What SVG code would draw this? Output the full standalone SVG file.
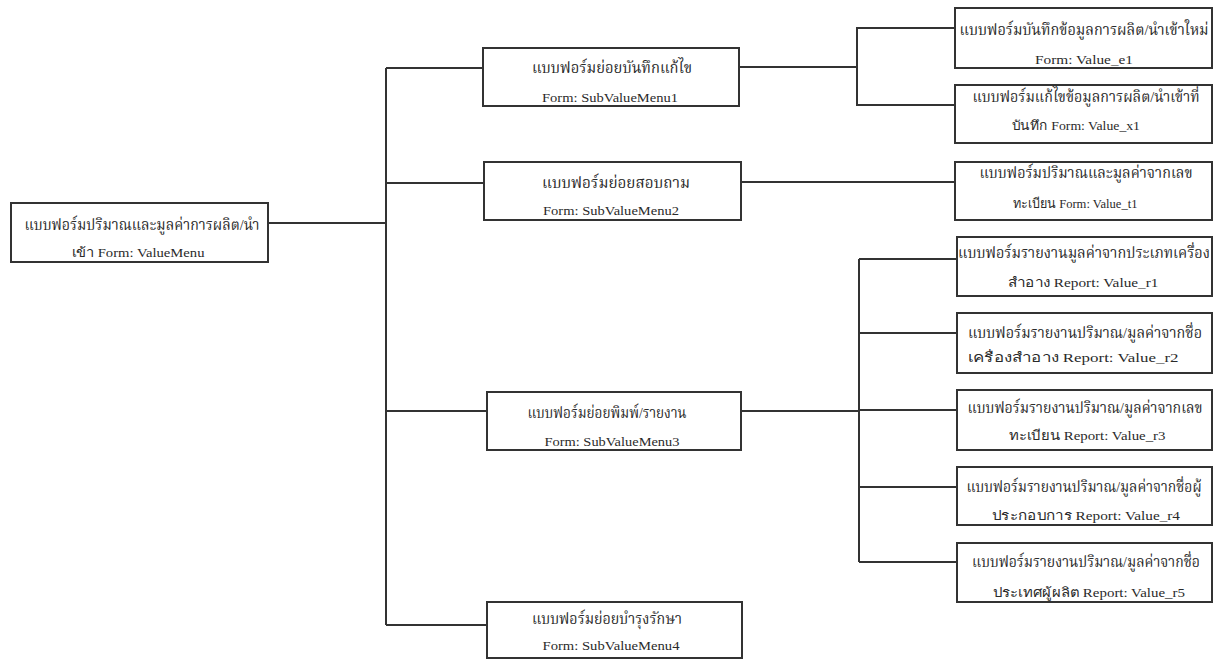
<svg xmlns="http://www.w3.org/2000/svg" width="1220" height="661" viewBox="0 0 1220 661">
<style>
.box{fill:#fff;stroke:#333;stroke-width:2}
.ln{fill:none;stroke:#333;stroke-width:2}
.th{font-family:"Liberation Serif","Noto Serif Thai","Noto Sans Thai",serif;font-size:15px;fill:#2a2a2a;text-anchor:middle}
.en{font-family:"Liberation Serif",serif;font-size:13px;fill:#2a2a2a;text-anchor:middle}
</style>
<rect width="1220" height="661" fill="#fff"/>
<g id="connectors" class="ln">
<polyline points="268,223 386,223"/>
<polyline points="386,68 386,625"/>
<polyline points="386,68 483,68"/>
<polyline points="386,183 484,183"/>
<polyline points="386,411 487,411"/>
<polyline points="386,625 487,625"/>
<polyline points="739,67 857,67"/>
<polyline points="955,28 857,28 857,105 955,105"/>
<polyline points="741,182 955,182"/>
<polyline points="741,411 859,411"/>
<polyline points="859,259 859,562"/>
<polyline points="859,259 957,259"/>
<polyline points="859,333 957,333"/>
<polyline points="859,410 957,410"/>
<polyline points="859,487 957,487"/>
<polyline points="859,562 957,562"/>
</g>
<g id="root">
<rect class="box" x="11" y="203" width="257" height="59"/>
<text class="th" x="142" y="230" textLength="235" lengthAdjust="spacingAndGlyphs">แบบฟอร์มปริมาณและมูลค่าการผลิต/นำ</text>
<text class="en" x="138" y="257" textLength="133" lengthAdjust="spacingAndGlyphs">เข้า Form: ValueMenu</text>
</g>
<g id="sub1">
<rect class="box" x="483" y="48" width="256" height="58"/>
<text class="th" x="612" y="73" textLength="160" lengthAdjust="spacingAndGlyphs">แบบฟอร์มย่อยบันทึกแก้ไข</text>
<text class="en" x="610" y="102" textLength="136" lengthAdjust="spacingAndGlyphs">Form: SubValueMenu1</text>
</g>
<g id="sub2">
<rect class="box" x="484" y="162" width="257" height="58"/>
<text class="th" x="616" y="188" textLength="148" lengthAdjust="spacingAndGlyphs">แบบฟอร์มย่อยสอบถาม</text>
<text class="en" x="611" y="215" textLength="136" lengthAdjust="spacingAndGlyphs">Form: SubValueMenu2</text>
</g>
<g id="sub3">
<rect class="box" x="487" y="392" width="254" height="58"/>
<text class="th" x="607" y="418" textLength="159" lengthAdjust="spacingAndGlyphs">แบบฟอร์มย่อยพิมพ์/รายงาน</text>
<text class="en" x="612" y="446" textLength="135" lengthAdjust="spacingAndGlyphs">Form: SubValueMenu3</text>
</g>
<g id="sub4">
<rect class="box" x="487" y="602" width="255" height="56"/>
<text class="th" x="607" y="624" textLength="150" lengthAdjust="spacingAndGlyphs">แบบฟอร์มย่อยบำรุงรักษา</text>
<text class="en" x="611" y="650" textLength="137" lengthAdjust="spacingAndGlyphs">Form: SubValueMenu4</text>
</g>
<g id="e1">
<rect class="box" x="955" y="8" width="257" height="60"/>
<text class="th" x="1084" y="35" textLength="249" lengthAdjust="spacingAndGlyphs">แบบฟอร์มบันทึกข้อมูลการผลิต/นำเข้าใหม่</text>
<text class="en" x="1084" y="64" textLength="98" lengthAdjust="spacingAndGlyphs">Form: Value_e1</text>
</g>
<g id="x1">
<rect class="box" x="955" y="85" width="257" height="58"/>
<text class="th" x="1086" y="102" textLength="227" lengthAdjust="spacingAndGlyphs">แบบฟอร์มแก้ไขข้อมูลการผลิต/นำเข้าที่</text>
<text class="en" x="1076" y="130" textLength="128" lengthAdjust="spacingAndGlyphs">บันทึก Form: Value_x1</text>
</g>
<g id="t1">
<rect class="box" x="955" y="162" width="257" height="58"/>
<text class="th" x="1086" y="178" textLength="213" lengthAdjust="spacingAndGlyphs">แบบฟอร์มปริมาณและมูลค่าจากเลข</text>
<text class="en" x="1075" y="208" textLength="125" lengthAdjust="spacingAndGlyphs">ทะเบียน Form: Value_t1</text>
</g>
<g id="r1">
<rect class="box" x="957" y="237" width="255" height="59"/>
<text class="th" x="1084" y="258" textLength="252" lengthAdjust="spacingAndGlyphs">แบบฟอร์มรายงานมูลค่าจากประเภทเครื่อง</text>
<text class="en" x="1083" y="287" textLength="151" lengthAdjust="spacingAndGlyphs">สำอาง Report: Value_r1</text>
</g>
<g id="r2">
<rect class="box" x="957" y="313" width="255" height="60"/>
<text class="th" x="1085" y="338" textLength="234" lengthAdjust="spacingAndGlyphs">แบบฟอร์มรายงานปริมาณ/มูลค่าจากชื่อ</text>
<text class="en" x="1073" y="362" textLength="211" lengthAdjust="spacingAndGlyphs">เครื่องสำอาง Report: Value_r2</text>
</g>
<g id="r3">
<rect class="box" x="957" y="390" width="255" height="60"/>
<text class="th" x="1085" y="413" textLength="235" lengthAdjust="spacingAndGlyphs">แบบฟอร์มรายงานปริมาณ/มูลค่าจากเลข</text>
<text class="en" x="1087" y="440" textLength="157" lengthAdjust="spacingAndGlyphs">ทะเบียน Report: Value_r3</text>
</g>
<g id="r4">
<rect class="box" x="957" y="467" width="255" height="58"/>
<text class="th" x="1084" y="492" textLength="235" lengthAdjust="spacingAndGlyphs">แบบฟอร์มรายงานปริมาณ/มูลค่าจากชื่อผู้</text>
<text class="en" x="1086" y="520" textLength="188" lengthAdjust="spacingAndGlyphs">ประกอบการ Report: Value_r4</text>
</g>
<g id="r5">
<rect class="box" x="957" y="543" width="255" height="59"/>
<text class="th" x="1086" y="567" textLength="228" lengthAdjust="spacingAndGlyphs">แบบฟอร์มรายงานปริมาณ/มูลค่าจากชื่อ</text>
<text class="en" x="1089" y="597" textLength="192" lengthAdjust="spacingAndGlyphs">ประเทศผู้ผลิต Report: Value_r5</text>
</g>
</svg>
